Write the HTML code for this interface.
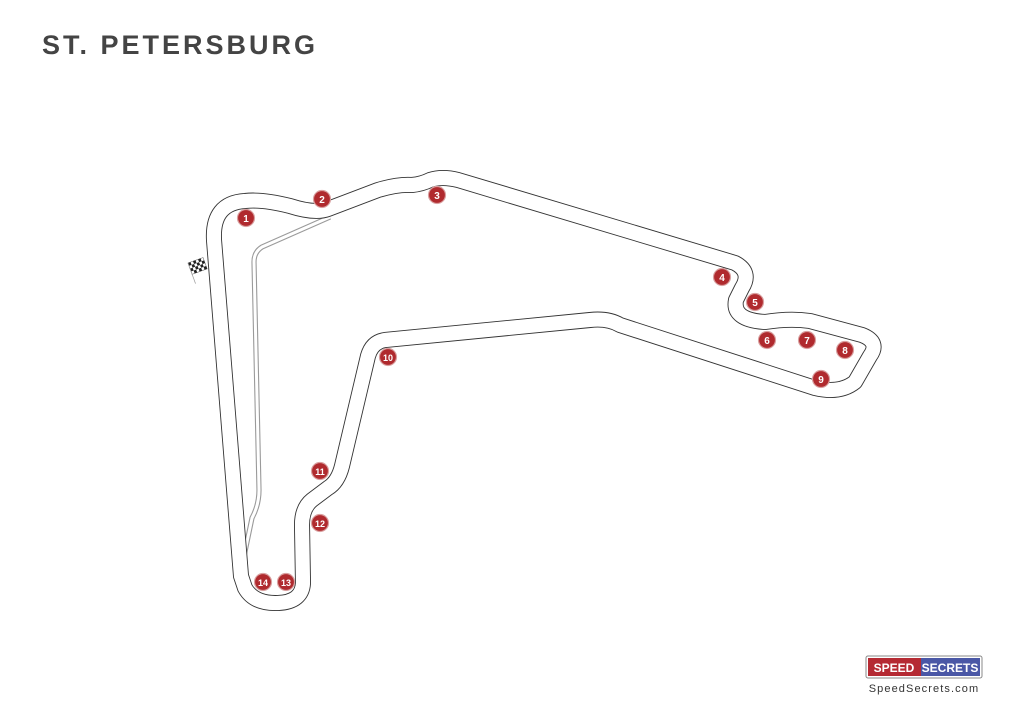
<!DOCTYPE html>
<html><head><meta charset="utf-8"><style>
html,body{margin:0;padding:0;background:#fff;}
body{width:1024px;height:724px;position:relative;overflow:hidden;font-family:"Liberation Sans",sans-serif;}
.title{position:absolute;left:42px;top:30px;font-size:27px;font-weight:bold;color:#444;letter-spacing:3px;}
</style></head><body>
<div class="title">ST. PETERSBURG</div>
<svg width="1024" height="724" style="position:absolute;left:0;top:0">
<defs>
<path id="trk" d="M241,576 L214,240 Q212,203 245,201 Q262,199 290,206 Q315,214 328,209 L378,190 Q398,184 412,185 Q422,184 430,180 Q442,176 458,180 L735,263 Q752,272 742,288 L736,300 Q732,320 765,322 Q790,318 810,321 L862,335 Q880,342 870,356 L855,382 Q840,394 815,388 L620,325 Q608,318 590,320 L385,340 Q372,342 368,356 L342,466 Q338,482 328,488 L312,500 Q302,508 302,525 L303,583 Q302,602 278,603 Q254,604 245,588 Z"/>
<path id="pit" d="M330,217 L262,247 Q254,252 254,262 L259,490 Q259,505 252,518 L242,566"/>
</defs>
<use href="#pit" fill="none" stroke="#9a9a9a" stroke-width="5.2" stroke-linejoin="round"/>
<use href="#pit" fill="none" stroke="#fff" stroke-width="3" stroke-linejoin="round"/>
<use href="#trk" fill="none" stroke="#333" stroke-width="16" stroke-linejoin="round"/>
<use href="#trk" fill="none" stroke="#fff" stroke-width="14.2" stroke-linejoin="round"/>
<g transform="translate(188,263) rotate(-20)">
<rect x="0" y="0" width="16" height="12" fill="#fff" stroke="#555" stroke-width="0.5"/>
<g fill="#222">
<rect x="0" y="0" width="2.7" height="3"/><rect x="5.3" y="0" width="2.7" height="3"/><rect x="10.7" y="0" width="2.7" height="3"/>
<rect x="2.7" y="3" width="2.7" height="3"/><rect x="8" y="3" width="2.7" height="3"/><rect x="13.3" y="3" width="2.7" height="3"/>
<rect x="0" y="6" width="2.7" height="3"/><rect x="5.3" y="6" width="2.7" height="3"/><rect x="10.7" y="6" width="2.7" height="3"/>
<rect x="2.7" y="9" width="2.7" height="3"/><rect x="8" y="9" width="2.7" height="3"/><rect x="13.3" y="9" width="2.7" height="3"/>
</g>
<line x1="0" y1="0" x2="0" y2="22" stroke="#999" stroke-width="0.7"/>
</g>
<g font-family="Liberation Sans, sans-serif" font-weight="bold" font-size="10" fill="#fff" text-anchor="middle">
<g stroke="#d9a0a0" stroke-width="1.2" fill="#b02a2e">
<circle cx="246" cy="218" r="8.5"/><circle cx="322" cy="199" r="8.5"/><circle cx="437" cy="195" r="8.5"/>
<circle cx="722" cy="277" r="8.5"/><circle cx="755" cy="302" r="8.5"/><circle cx="767" cy="340" r="8.5"/>
<circle cx="807" cy="340" r="8.5"/><circle cx="845" cy="350" r="8.5"/><circle cx="821" cy="379" r="8.5"/>
<circle cx="388" cy="357" r="8.5"/><circle cx="320" cy="471" r="8.5"/><circle cx="320" cy="523" r="8.5"/>
<circle cx="263" cy="582" r="8.5"/><circle cx="286" cy="582" r="8.5"/>
</g>
<text x="246" y="222">1</text><text x="322" y="203">2</text><text x="437" y="199">3</text>
<text x="722" y="281">4</text><text x="755" y="306">5</text><text x="767" y="344">6</text>
<text x="807" y="344">7</text><text x="845" y="354">8</text><text x="821" y="383">9</text>
<text x="388" y="361" font-size="9">10</text><text x="320" y="475" font-size="9">11</text><text x="320" y="527" font-size="9">12</text>
<text x="263" y="586" font-size="9">14</text><text x="286" y="586" font-size="9">13</text>
</g>
<rect x="866" y="656" width="116" height="22" rx="2" fill="#fff" stroke="#888" stroke-width="1"/>
<rect x="868" y="658" width="53" height="18" fill="#b52a33"/>
<rect x="921" y="658" width="59" height="18" fill="#4a57a6"/>
<text x="894" y="672" font-family="Liberation Sans, sans-serif" font-weight="bold" font-size="12" fill="#fff" text-anchor="middle">SPEED</text>
<text x="950" y="672" font-family="Liberation Sans, sans-serif" font-weight="bold" font-size="12" fill="#fff" text-anchor="middle">SECRETS</text>
<text x="924" y="692" font-family="Liberation Sans, sans-serif" font-size="11" fill="#333" text-anchor="middle" letter-spacing="1.1">SpeedSecrets.com</text>
</svg>
</body></html>
